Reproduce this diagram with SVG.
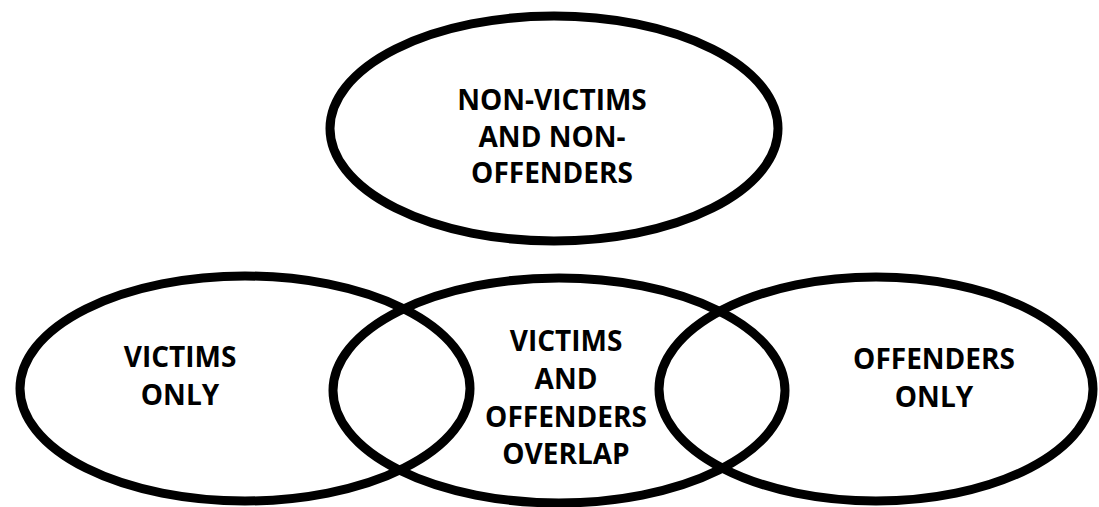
<svg xmlns="http://www.w3.org/2000/svg" width="1099" height="507" viewBox="0 0 1099 507">
<style>
.shape{fill:none;stroke:#000;stroke-width:9}
.lbl{font-family:"Open Sans","Liberation Sans",sans-serif;font-weight:bold;font-size:28px;fill:#000;text-anchor:middle}
</style>
<rect width="1099" height="507" fill="#fff"/>
<g id="non-victims">
<ellipse class="shape" cx="554" cy="128.5" rx="224" ry="112.5"/>
<text class="lbl" x="552" y="110">NON-VICTIMS</text>
<text class="lbl" x="552" y="147">AND NON-</text>
<text class="lbl" x="552" y="183">OFFENDERS</text>
</g>
<g id="victims-only">
<ellipse class="shape" cx="245" cy="388.5" rx="225" ry="112.5"/>
<text class="lbl" x="180" y="367">VICTIMS</text>
<text class="lbl" x="180" y="405">ONLY</text>
</g>
<g id="overlap">
<ellipse class="shape" cx="559" cy="390.5" rx="226" ry="112.5"/>
<text class="lbl" x="566" y="351">VICTIMS</text>
<text class="lbl" x="566" y="389">AND</text>
<text class="lbl" x="566" y="427">OFFENDERS</text>
<text class="lbl" x="566" y="464">OVERLAP</text>
</g>
<g id="offenders-only">
<ellipse class="shape" cx="876" cy="389" rx="217" ry="112"/>
<text class="lbl" x="934" y="369">OFFENDERS</text>
<text class="lbl" x="934" y="407">ONLY</text>
</g>
<g id="connectors"></g>
</svg>
